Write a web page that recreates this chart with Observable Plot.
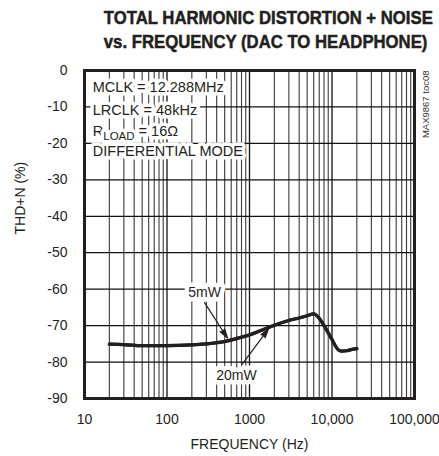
<!DOCTYPE html>
<html>
<head>
<meta charset="utf-8">
<script src="https://cdn.jsdelivr.net/npm/d3@7"></script>
<script src="https://cdn.jsdelivr.net/npm/@observablehq/plot@0.6"></script>
<style>
  html, body { margin: 0; padding: 0; background: #fff; }
  #wrap { width: 439px; height: 456px; position: relative; overflow: hidden; }
  #title {
    position: relative; height: 54px; box-sizing: border-box; padding-top: 6px;
    width: 439px;
    font-family: "Liberation Sans", Arial, sans-serif;
    font-weight: bold; font-size: 19px; line-height: 24px; color: #231f20;
  }
  #title div {
    position: relative; left: 84px; width: 330px; text-align: center; white-space: nowrap;
    transform: scaleX(0.88); transform-origin: 50% 50%;
    -webkit-text-stroke: 0.5px #231f20;
  }
  svg { display: block; }
</style>
</head>
<body>
<div id="wrap">
  <div id="title"><div>TOTAL HARMONIC DISTORTION + NOISE</div><div>vs. FREQUENCY (DAC TO HEADPHONE)</div></div>
  <div id="chart"></div>
</div>
<script>
// ---- data ----
const freq = [20, 30, 50, 100, 200, 300, 500, 700, 1000, 1500, 2000, 3000, 4000, 5000, 6000, 7000, 8000, 9000, 10000, 11000, 12000, 13000, 15000, 17000, 20000];
const thd5mW  = [-75.1, -75.2, -75.5, -75.5, -75.3, -75.0, -74.3, -73.5, -72.5, -71.0, -69.9, -68.6, -67.9, -67.3, -66.8, -68.0, -70.0, -72.0, -73.8, -75.6, -76.7, -77.0, -76.9, -76.6, -76.3];
const thd20mW = [-75.1, -75.2, -75.5, -75.5, -75.3, -75.0, -74.4, -73.6, -72.6, -71.0, -69.9, -68.6, -67.9, -67.3, -66.8, -68.0, -70.0, -72.0, -73.8, -75.6, -76.7, -77.0, -76.9, -76.6, -76.3];

const xTicks = [10, 100, 1000, 10000, 100000];
const xTickLabels = ["10", "100", "1000", "10,000", "100,000"];
const yTicks = [0, -10, -20, -30, -40, -50, -60, -70, -80, -90];
const yTickLabels = ["0", "-10", "-20", "-30", "-40", "-50", "-60", "-70", "-80", "-90"];
const xMinorGrid = [20,30,40,50,60,70,80,90, 200,300,400,500,600,700,800,900, 2000,3000,4000,5000,6000,7000,8000,9000, 20000,30000,40000,50000,60000,70000,80000,90000];
const xMajorGrid = [100, 1000, 10000];
const yGrid = [-10, -20, -30, -40, -50, -60, -70, -80];

const conditions = ["MCLK = 12.288MHz", "LRCLK = 48kHz", "RLOAD = 16Ω", "DIFFERENTIAL MODE"];
const conditionY = [-4.7, -11.0, -16.6, -22.2];
const conditionX = 12.6;

const seriesLabels = ["5mW", "20mW"];
const labelX = [285, 695];
const labelY = [-61.0, -83.8];
const arrowX1 = [285, 822];
const arrowY1 = [-63.7, -80.5];
const arrowX2 = [541, 1700];
const arrowY2 = [-73.4, -70.9];

const xLabel = "FREQUENCY (Hz)";
const yLabel = "THD+N (%)";
const partNote = "MAX9867 toc08";

// ---- build ----
const rows = [];
freq.forEach((f, i) => rows.push({f, v: thd5mW[i], s: "5mW"}));
freq.forEach((f, i) => rows.push({f, v: thd20mW[i], s: "20mW"}));
const conds = conditions.map((t, i) => ({t, x: conditionX, y: conditionY[i]}));
const labs = seriesLabels.map((t, i) => ({t, x: labelX[i], y: labelY[i]}));
const arrows = seriesLabels.map((t, i) => ({x1: arrowX1[i], y1: arrowY1[i], x2: arrowX2[i], y2: arrowY2[i]}));

const ink = "#231f20";
const font = "Liberation Sans, Arial, sans-serif";

const chart = Plot.plot({
  width: 439,
  height: 402,
  marginLeft: 84,
  marginRight: 25,
  marginTop: 16,
  marginBottom: 58,
  style: {fontFamily: font, fontSize: "14px", color: ink, background: "white"},
  x: {type: "log", domain: [10, 100000]},
  y: {domain: [-90, 0]},
  marks: [
    Plot.ruleX(xMinorGrid, {stroke: "#3a3a3a", strokeWidth: 1.1}),
    Plot.ruleX(xMajorGrid, {stroke: "#111", strokeWidth: 1.3}),
    Plot.ruleY(yGrid, {stroke: "#111", strokeWidth: 1.3}),
    Plot.line(rows, {x: "f", y: "v", z: "s", stroke: ink, strokeWidth: 3.2, curve: "monotone-x"}),
    Plot.text(conds, {x: "x", y: "y", text: "t", textAnchor: "start", fontSize: 14.5, fill: ink,
      stroke: "white", strokeWidth: 7, strokeLinejoin: "round", fontFamily: font}),
    Plot.text(labs, {x: "x", y: "y", text: "t", fontSize: 14, fill: ink,
      stroke: "white", strokeWidth: 9, strokeLinejoin: "round", fontFamily: font}),
    Plot.arrow(arrows, {x1: "x1", y1: "y1", x2: "x2", y2: "y2", stroke: ink, fill: ink, strokeWidth: 1.2, headLength: 12, headAngle: 32}),
    Plot.frame({stroke: ink, strokeWidth: 3}),
    Plot.axisX(xTicks, {tickSize: 0, tickPadding: 16, fontSize: 14, tickFormat: d => xTickLabels[xTicks.indexOf(d)], label: null}),
    Plot.axisY(yTicks, {tickSize: 0, tickPadding: 17, fontSize: 14, tickFormat: d => yTickLabels[yTicks.indexOf(d)], label: null}),
    Plot.text([xLabel], {frameAnchor: "bottom", dy: 50, fontSize: 14, fill: ink, fontFamily: font}),
    Plot.text([yLabel], {frameAnchor: "left", dx: -64, rotate: -90, fontSize: 14, fill: ink, fontFamily: font}),
    Plot.text([partNote], {frameAnchor: "top-right", dx: 8, dy: 0, rotate: -90, textAnchor: "end", fontSize: 9.5, fill: "#333", fontFamily: font})
  ]
});

// subscript for R_LOAD
chart.querySelectorAll("text").forEach(t => {
  if (t.textContent === "RLOAD = 16Ω") {
    t.textContent = "";
    const ns = "http://www.w3.org/2000/svg";
    const a = document.createElementNS(ns, "tspan"); a.textContent = "R";
    const b = document.createElementNS(ns, "tspan"); b.textContent = "LOAD"; b.setAttribute("dy", "4"); b.setAttribute("font-size", "11.5");
    const c = document.createElementNS(ns, "tspan"); c.textContent = " = 16Ω"; c.setAttribute("dy", "-4");
    t.append(a, b, c);
  }
});
document.getElementById("chart").append(chart);
</script>
</body>
</html>
